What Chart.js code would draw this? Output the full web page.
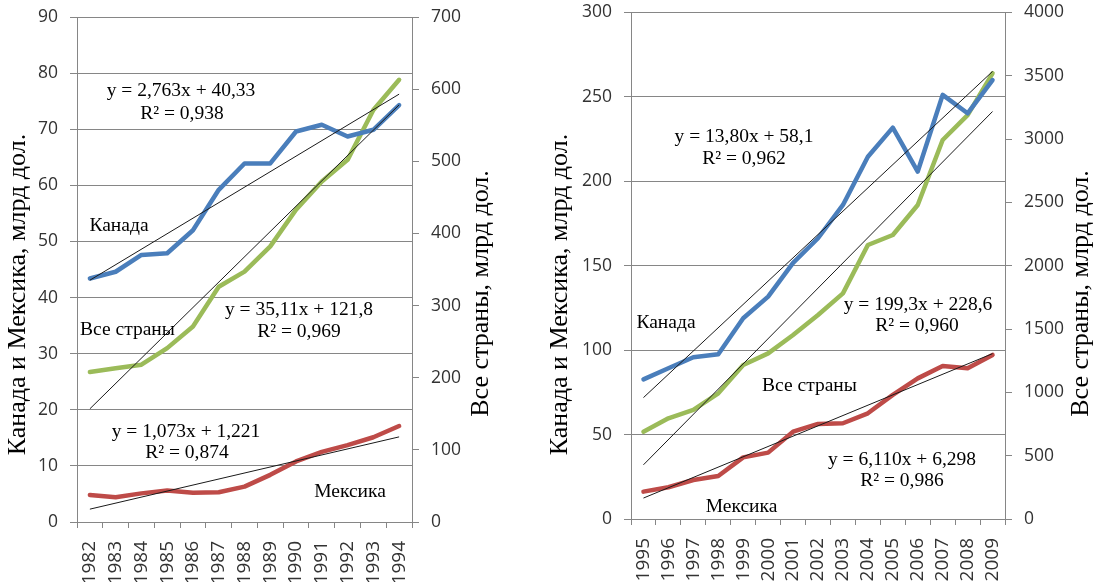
<!DOCTYPE html>
<html><head><meta charset="utf-8">
<script src="https://cdn.jsdelivr.net/npm/chart.js@4"></script>
<style>
html,body{margin:0;padding:0;background:#fff;overflow:hidden;width:1103px;height:582px;}
#c1{position:absolute;left:0;top:0;}
#c2{position:absolute;left:520px;top:0;}
</style></head><body>
<canvas id="c1" width="520" height="582"></canvas>
<canvas id="c2" width="583" height="582"></canvas>
<script>
// ---- data: 1982-1994 ----
const years1 = ['1982','1983','1984','1985','1986','1987','1988','1989','1990','1991','1992','1993','1994'];
const canada1 = [43.4, 44.6, 47.6, 47.9, 52.0, 59.2, 63.9, 63.9, 69.6, 70.8, 68.7, 69.9, 74.3];
const mexico1 = [4.8, 4.4, 5.1, 5.6, 5.2, 5.3, 6.3, 8.4, 10.8, 12.5, 13.7, 15.1, 17.1];
const all1    = [208, 213, 218, 241, 271, 326, 347, 382, 433, 472, 502, 571, 613];
const canadaTrend1 = [43.09, 76.25];
const mexicoTrend1 = [2.29, 15.17];
const allTrend1    = [156.9, 578.2];
const leftTicks1  = {min: 0, max: 90, step: 10};
const rightTicks1 = {min: 0, max: 700, step: 100};

// ---- data: 1995-2009 ----
const years2 = ['1995','1996','1997','1998','1999','2000','2001','2002','2003','2004','2005','2006','2007','2008','2009'];
const canada2 = [82.7, 89.3, 95.8, 97.6, 118.9, 131.7, 151.7, 166.3, 186.0, 214.6, 231.8, 205.8, 251.2, 240.3, 260.0];
const mexico2 = [16.2, 18.8, 23.1, 25.5, 36.5, 39.3, 51.7, 56.3, 56.7, 62.6, 73.5, 83.3, 90.6, 89.3, 97.2];
const all2    = [689, 795, 861, 992, 1216, 1308, 1453, 1611, 1782, 2164, 2243, 2480, 2993, 3190, 3520];
const canadaTrend2 = [71.9, 265.1];
const mexicoTrend2 = [12.41, 97.95];
const allTrend2    = [427.9, 3218.1];
const leftTicks2  = {min: 0, max: 300, step: 50};
const rightTicks2 = {min: 0, max: 4000, step: 500};

const leftTitle = 'Канада и Мексика, млрд дол.';
const rightTitle = 'Все страны, млрд дол.';

const notes1 = [
  {t: 'y = 2,763x + 40,33', x: 181, y: 91},
  {t: 'R² = 0,938', x: 182, y: 114},
  {t: 'Канада', x: 119, y: 226},
  {t: 'Все страны', x: 127.5, y: 330},
  {t: 'y = 35,11x + 121,8', x: 299, y: 310},
  {t: 'R² = 0,969', x: 299, y: 332},
  {t: 'y = 1,073x + 1,221', x: 186, y: 432},
  {t: 'R² = 0,874', x: 187, y: 453},
  {t: 'Мексика', x: 350, y: 492}
];
const notes2 = [
  {t: 'y = 13,80x + 58,1', x: 224, y: 137},
  {t: 'R² = 0,962', x: 224, y: 159},
  {t: 'Канада', x: 146, y: 323},
  {t: 'y = 199,3x + 228,6', x: 398, y: 305},
  {t: 'R² = 0,960', x: 397, y: 326},
  {t: 'Все страны', x: 289.5, y: 386},
  {t: 'y = 6,110x + 6,298', x: 382, y: 460},
  {t: 'R² = 0,986', x: 382, y: 481},
  {t: 'Мексика', x: 221.5, y: 507}
];

const BLUE = '#4A7EBB', RED = '#BE4B48', GREEN = '#9BBB59', GRID = '#868686';

const textPlugin = {
  id: 'notes',
  afterDraw(chart, args, opts) {
    const ctx = chart.ctx;
    ctx.save();
    ctx.fillStyle = '#000';
    ctx.font = '19.5px "Liberation Serif"';
    ctx.textAlign = 'center';
    ctx.textBaseline = 'middle';
    for (const n of opts.notes) ctx.fillText(n.t, n.x, n.y);
    ctx.font = '26px "Liberation Serif"';
    ctx.textBaseline = 'alphabetic';
    for (const tt of opts.titles) {
      ctx.save();
      ctx.translate(tt.x, tt.y);
      ctx.rotate(-Math.PI / 2);
      ctx.fillText(tt.t, 0, 0);
      ctx.restore();
    }
    ctx.restore();
  }
};

function trendData(labels, t) {
  return [{x: labels[0], y: t[0]}, {x: labels[labels.length - 1], y: t[1]}];
}

function makeChart(id, labels, can, mex, all, tc, tm, ta, lt, rt, g, notes, titles) {
  const tickFont = {family: 'Open Sans', size: 17.5};
  const plain = (v) => String(v);
  const line = (data, color, axis) => ({data, borderColor: color, borderWidth: 4.5, yAxisID: axis,
    pointRadius: 0, tension: 0, fill: false, borderJoinStyle: 'round', borderCapStyle: 'round', order: 2});
  const trend = (data, axis) => ({data, borderColor: '#1a1a1a', borderWidth: 1, yAxisID: axis,
    pointRadius: 0, tension: 0, fill: false, order: 1});
  return new Chart(document.getElementById(id), {
    type: 'line',
    data: {
      labels,
      datasets: [
        line(can, BLUE, 'y'),
        line(mex, RED, 'y'),
        line(all, GREEN, 'y2'),
        trend(trendData(labels, tc), 'y'),
        trend(trendData(labels, tm), 'y'),
        trend(trendData(labels, ta), 'y2')
      ]
    },
    options: {
      responsive: false,
      animation: false,
      layout: {padding: {top: g.top, left: 0, right: 0, bottom: 0}},
      plugins: {legend: {display: false}, tooltip: {enabled: false}, notes: {notes, titles}},
      scales: {
        x: {
          type: 'category', offset: true,
          grid: {display: true, drawOnChartArea: false, drawTicks: true, tickLength: 6, offset: true, color: GRID},
          border: {display: true, color: GRID},
          ticks: {autoSkip: false, minRotation: 90, maxRotation: 90, padding: 13,
            font: {family: 'Open Sans', size: 19}, color: '#333'},
          afterFit(s) { s.height = g.xh; s.paddingLeft = 0; s.paddingRight = 0; }
        },
        y: {
          position: 'left', min: lt.min, max: lt.max,
          ticks: {stepSize: lt.step, padding: 12, font: tickFont, color: '#333', callback: plain},
          grid: {color: GRID, tickLength: 7},
          border: {color: GRID},
          afterFit(s) { s.width = g.lw; s.paddingTop = 0; s.paddingBottom = 0; }
        },
        y2: {
          position: 'right', min: rt.min, max: rt.max,
          ticks: {stepSize: rt.step, padding: 12, font: tickFont, color: '#333', callback: plain},
          grid: {drawOnChartArea: false, tickLength: 7, color: GRID},
          border: {color: GRID},
          afterFit(s) { s.width = g.rw; s.paddingTop = 0; s.paddingBottom = 0; }
        }
      }
    },
    plugins: [textPlugin]
  });
}

makeChart('c1', years1, canada1, mexico1, all1, canadaTrend1, mexicoTrend1, allTrend1,
  leftTicks1, rightTicks1, {top: 17, xh: 60, lw: 77, rw: 108}, notes1,
  [{t: leftTitle, x: 25, y: 294.5}, {t: rightTitle, x: 488, y: 293.5}]);
makeChart('c2', years2, canada2, mexico2, all2, canadaTrend2, mexicoTrend2, allTrend2,
  leftTicks2, rightTicks2, {top: 12.5, xh: 63, lw: 111, rw: 98}, notes2,
  [{t: leftTitle, x: 47, y: 294.5}, {t: rightTitle, x: 568, y: 293.5}]);
</script>
</body></html>
